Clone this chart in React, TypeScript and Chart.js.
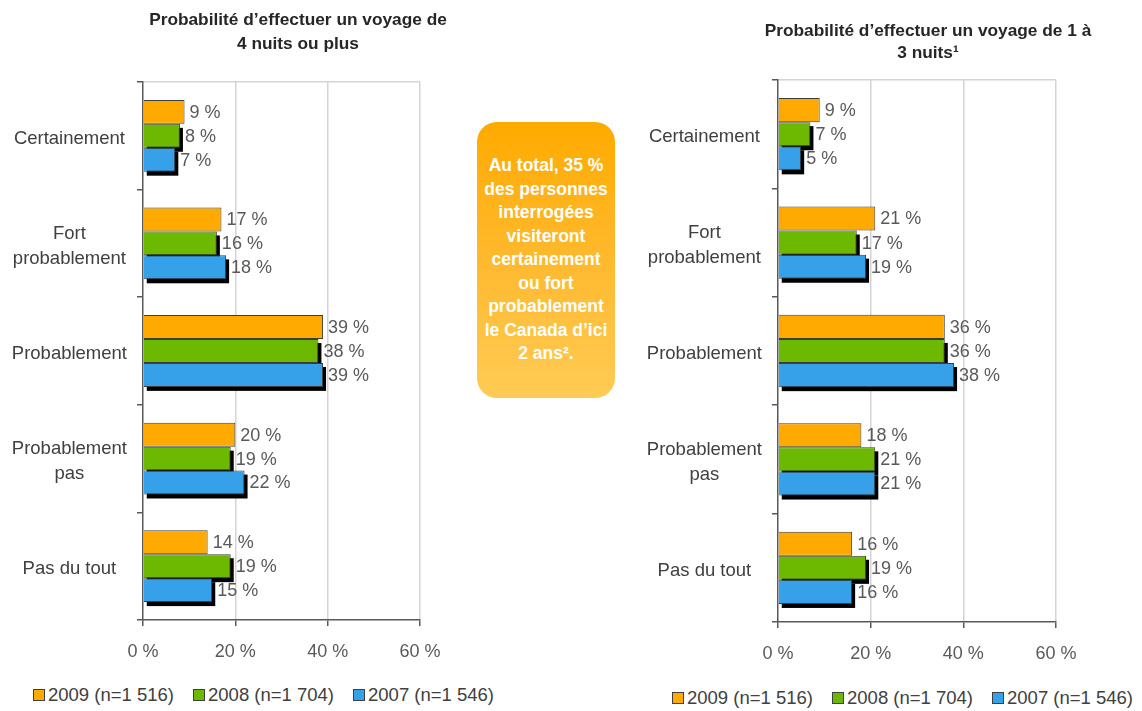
import React, { useEffect, useRef } from 'react';
import { Chart, registerables } from 'chart.js';

Chart.register(...registerables);

const categories: string[][] = [
  ['Certainement'],
  ['Fort', 'probablement'],
  ['Probablement'],
  ['Probablement', 'pas'],
  ['Pas du tout'],
];
const seriesLabels = ['2009 (n=1 516)', '2008 (n=1 704)', '2007 (n=1 546)'];
const seriesColors = ['#FFAA00', '#6DB800', '#36A0E8'];

const long2009 = [9, 17, 39, 20, 14];
const long2008 = [8, 16, 38, 19, 19];
const long2007 = [7, 18, 39, 22, 15];

const short2009 = [9, 21, 36, 18, 16];
const short2008 = [7, 17, 36, 21, 19];
const short2007 = [5, 19, 38, 21, 16];

const xMin = 0;
const xMax = 60;
const xStep = 20;

const titleLeft = ['Probabilité d’effectuer un voyage de', '4 nuits ou plus'];
const titleRight = ['Probabilité d’effectuer un voyage de 1 à', '3 nuits¹'];
const boxLines = [
  'Au total, 35 %',
  'des personnes',
  'interrogées',
  'visiteront',
  'certainement',
  'ou fort',
  'probablement',
  'le Canada d’ici',
  '2 ans².',
];

const FONT = '"Liberation Sans", Arial, Helvetica, sans-serif';

const shadowPlugin = {
  id: 'barShadow',
  beforeDatasetsDraw(chart: any) {
    const ctx = chart.ctx;
    ctx.save();
    ctx.fillStyle = '#000000';
    chart.data.datasets.forEach((ds: any, i: number) => {
      if (!ds.shadow) return;
      const meta = chart.getDatasetMeta(i);
      meta.data.forEach((el: any) => {
        const p = el.getProps(['x', 'y', 'base', 'height'], true);
        ctx.fillRect(p.base + 3, p.y - p.height / 2 + 4, p.x - p.base, p.height);
      });
    });
    ctx.restore();
  },
};

const valueLabelPlugin = {
  id: 'valueLabels',
  afterDatasetsDraw(chart: any) {
    const ctx = chart.ctx;
    ctx.save();
    ctx.font = `18px ${FONT}`;
    ctx.fillStyle = '#595959';
    ctx.textAlign = 'left';
    ctx.textBaseline = 'middle';
    chart.data.datasets.forEach((ds: any, i: number) => {
      const meta = chart.getDatasetMeta(i);
      meta.data.forEach((el: any, j: number) => {
        const p = el.getProps(['x', 'y'], true);
        ctx.fillText(`${ds.data[j]} %`, p.x + 5, p.y + 1);
      });
    });
    ctx.restore();
  },
};

type BarProps = {
  left: number;
  width: number;
  height: number;
  padTop: number;
  padRight: number;
  yWidth: number;
  series: number[][];
};

function BarPanel({ left, width, height, padTop, padRight, yWidth, series }: BarProps) {
  const ref = useRef<HTMLCanvasElement | null>(null);
  useEffect(() => {
    if (!ref.current) return;
    const chart = new Chart(ref.current, {
      type: 'bar',
      data: {
        labels: categories as any,
        datasets: series.map((d, i) => ({
          label: seriesLabels[i],
          data: d,
          backgroundColor: seriesColors[i],
          borderColor: '#3d3d3d',
          borderWidth: 1,
          categoryPercentage: 0.667,
          barPercentage: 1,
          shadow: i > 0,
        })) as any,
      },
      options: {
        indexAxis: 'y',
        animation: false,
        responsive: false,
        maintainAspectRatio: false,
        layout: { padding: { top: padTop, right: padRight, left: 0, bottom: 0 } },
        plugins: {
          legend: { display: false },
          tooltip: { enabled: false },
          title: { display: false },
        },
        scales: {
          x: {
            min: xMin,
            max: xMax,
            ticks: {
              stepSize: xStep,
              callback: (v: any) => `${v} %`,
              font: { family: FONT, size: 18 },
              color: '#595959',
              padding: 15,
              maxRotation: 0,
            },
            grid: {
              color: (c: any) => (c.tick && c.tick.value === 0 ? 'rgba(0,0,0,0)' : '#d4d4d4'),
              lineWidth: 1.5,
              tickColor: '#595959',
              tickLength: 6,
            },
            border: { color: '#595959', width: 1.5 },
            afterFit: (s: any) => {
              s.height = 50;
            },
          },
          y: {
            ticks: {
              font: { family: FONT, size: 18.5, lineHeight: 1.38 },
              color: '#404040',
              padding: 10,
              crossAlign: 'center',
              labelOffset: 3,
            },
            grid: {
              offset: true,
              color: (c: any) => (c.index === 0 ? '#d4d4d4' : 'rgba(0,0,0,0)'),
              lineWidth: 1.5,
              tickColor: '#595959',
              tickLength: 6,
            },
            border: { color: '#595959', width: 1.5 },
            afterFit: (s: any) => {
              s.width = yWidth;
            },
          },
        },
      } as any,
      plugins: [shadowPlugin, valueLabelPlugin],
    });
    return () => chart.destroy();
  }, []);
  return (
    <canvas
      ref={ref}
      width={width}
      height={height}
      style={{ position: 'absolute', left, top: 0, width, height }}
    />
  );
}

function Legend({ left, top }: { left: number; top: number }) {
  return (
    <div
      style={{
        position: 'absolute',
        left,
        top,
        display: 'flex',
        alignItems: 'center',
        whiteSpace: 'nowrap',
        fontFamily: FONT,
        fontSize: 18.5,
        color: '#404040',
        lineHeight: '22px',
      }}
    >
      {seriesLabels.map((s, i) => (
        <div key={s} style={{ display: 'flex', alignItems: 'center', marginRight: i < 2 ? 19 : 0 }}>
          <span
            style={{
              display: 'inline-block',
              width: 10,
              height: 10,
              background: seriesColors[i],
              border: '1px solid #404040',
              marginRight: 3,
            }}
          />
          <span>{s}</span>
        </div>
      ))}
    </div>
  );
}

function Title({ cx, top, lines, lh }: { cx: number; top: number; lines: string[]; lh: number }) {
  return (
    <div
      style={{
        position: 'absolute',
        left: cx,
        top,
        transform: 'translateX(-50%)',
        textAlign: 'center',
        whiteSpace: 'nowrap',
        fontFamily: FONT,
        fontWeight: 'bold',
        fontSize: 17.3,
        lineHeight: `${lh}px`,
        color: '#262626',
      }}
    >
      {lines.map((l) => (
        <div key={l}>{l}</div>
      ))}
    </div>
  );
}

export default function App() {
  return (
    <div
      style={{
        position: 'absolute',
        left: 0,
        top: 0,
        width: 1142,
        height: 711,
        background: '#ffffff',
        overflow: 'hidden',
      }}
    >
      <BarPanel
        left={0}
        width={460}
        height={670}
        padTop={82}
        padRight={40}
        yWidth={143}
        series={[long2009, long2008, long2007]}
      />
      <BarPanel
        left={640}
        width={502}
        height={672}
        padTop={80}
        padRight={86}
        yWidth={138}
        series={[short2009, short2008, short2007]}
      />
      <Title cx={298} top={7} lines={titleLeft} lh={24} />
      <Title cx={928} top={19} lines={titleRight} lh={22} />
      <div
        style={{
          position: 'absolute',
          left: 477,
          top: 122,
          width: 138,
          height: 276,
          borderRadius: 20,
          background: 'linear-gradient(180deg, #FFAA00 0%, #FFB92E 50%, #FFCB55 100%)',
          display: 'flex',
          flexDirection: 'column',
          justifyContent: 'center',
          alignItems: 'center',
          color: '#ffffff',
          fontFamily: FONT,
          fontWeight: 'bold',
          fontSize: 17.5,
          lineHeight: '23.5px',
          textAlign: 'center',
          whiteSpace: 'nowrap',
        }}
      >
        {boxLines.map((l) => (
          <div key={l}>{l}</div>
        ))}
      </div>
      <Legend left={33} top={684} />
      <Legend left={672} top={687} />
    </div>
  );
}
